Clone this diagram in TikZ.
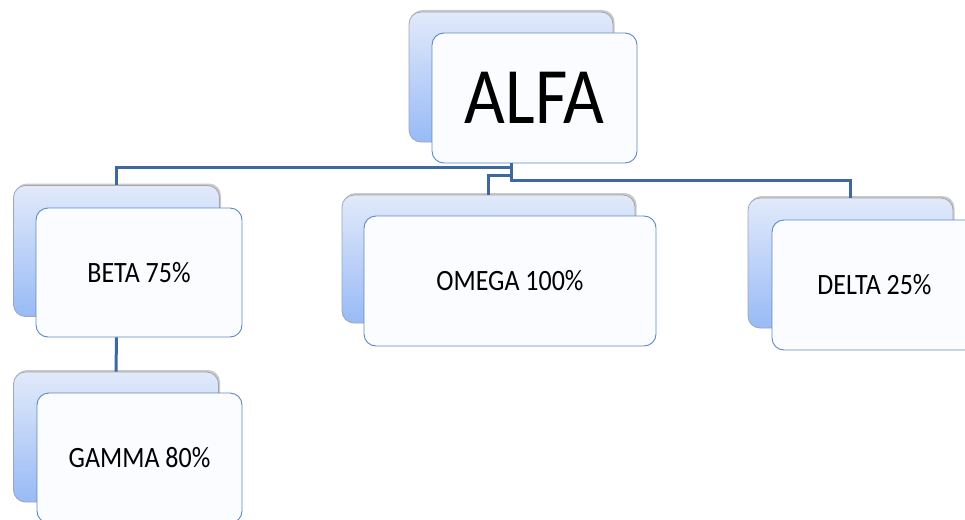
\documentclass[tikz,border=0pt]{standalone}
\usepackage{fontspec}
\setmainfont{Carlito}
\newfontfamily\narrowfont[FakeStretch=0.88]{Carlito}
\usetikzlibrary{shadows}
\definecolor{conn}{RGB}{62,104,160}
\definecolor{frontborder}{RGB}{92,136,196}
\definecolor{backtop}{RGB}{226,234,250}
\definecolor{backbot}{RGB}{152,186,246}
\definecolor{backborder}{RGB}{160,166,176}
\definecolor{frontfill}{RGB}{251,252,255}
\tikzset{
  backbox/.style={rectangle, rounded corners=12pt, draw=backborder, line width=0.8pt,
    top color=backtop, bottom color=backbot, inner sep=0pt,
    drop shadow={shadow xshift=1.5pt, shadow yshift=2pt, opacity=0.35, fill=black!60}},
  frontbox/.style={rectangle, rounded corners=12pt, draw=frontborder, line width=0.9pt,
    fill=frontfill, inner sep=0pt, text=black, font=\narrowfont\fontsize{29.5}{34}\selectfont},
  connector/.style={draw=conn, line width=3pt}
}
\begin{document}
\begin{tikzpicture}[x=1pt,y=-1pt]
\useasboundingbox (0,0) rectangle (965,519);
\clip (0,0) rectangle (965,519);
% back boxes
\node[backbox, minimum width=204pt, minimum height=130pt] (alfaB) at (511,77) {};
\node[backbox, minimum width=206pt, minimum height=131pt] (betaB) at (116.5,251) {};
\node[backbox, minimum width=205pt, minimum height=130pt] (gammaB) at (116,437) {};
\node[backbox, minimum width=293pt, minimum height=128pt] (omegaB) at (488.5,259) {};
\node[backbox, minimum width=205pt, minimum height=130pt] (deltaB) at (850.5,263) {};
% front boxes
\node[frontbox, minimum width=205pt, minimum height=130pt, font=\narrowfont\fontsize{80}{92}\selectfont] (alfa) at (534.5,98) {ALFA};
\node[frontbox, minimum width=206pt, minimum height=129pt] (beta) at (139,272.5) {BETA 75\%};
\node[frontbox, minimum width=205pt, minimum height=130pt] (gamma) at (139.5,458) {GAMMA 80\%};
\node[frontbox, minimum width=292pt, minimum height=130pt] (omega) at (510,281) {OMEGA 100\%};
\node[frontbox, minimum width=205pt, minimum height=130pt] (delta) at (874.5,285) {DELTA 25\%};
% connectors
\coordinate (root) at (alfaB.south |- alfa.south);
\draw[connector] (root) -- ++(0,4) -| (betaB.north);
\draw[connector] (root) -- ++(0,12) -| (omegaB.north);
\draw[connector] (root) -- ++(0,17) -| (deltaB.north);
\draw[connector] (betaB.south |- beta.south) -- (gammaB.north);
\end{tikzpicture}
\end{document}
